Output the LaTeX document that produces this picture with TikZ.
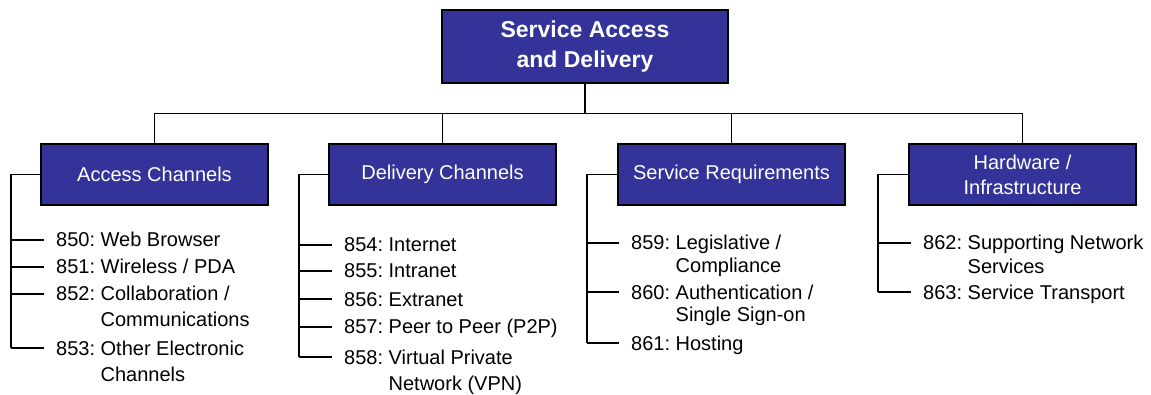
\documentclass[tikz,border=0pt]{standalone}
\usepackage{fontspec}
\setmainfont{Liberation Sans}
\frenchspacing
\definecolor{boxblue}{RGB}{51,51,153}
\newcommand\twoline[4][0pt]{\begin{tabular}[t]{@{}l@{\ }l@{}}#2:&#3\\[#1]&#4\end{tabular}}
\begin{document}
\begin{tikzpicture}[x=1pt,y=-1pt,
  hdr/.style={draw=black, line width=1.3pt, fill=boxblue, text=white,
    minimum width=227pt, minimum height=61pt, inner sep=0pt,
    font=\fontsize{20}{25}\selectfont, align=center},
  topbox/.style={draw=black, line width=1.3pt, fill=boxblue, text=white,
    minimum width=286pt, minimum height=73pt, inner sep=0pt,
    font=\bfseries\fontsize{23}{30}\selectfont, align=center},
  itm/.style={anchor=base west, inner sep=0pt, font=\frenchspacing\fontsize{20}{26}\selectfont},
  conn/.style={line width=1.5pt, black}]
\useasboundingbox (0,0) rectangle (1151,395);

\node[topbox] (root) at (585,46.5) {Service Access\\and Delivery};
\node[hdr] (acc) at (154.5,174.5) {Access Channels};
\node[hdr] (del) at (442.5,174.5) {Delivery Channels};
\node[hdr] (req) at (731.5,174.5) {Service Requirements};
\node[hdr] (hw) at (1022.5,174.5) {Hardware /\\Infrastructure};

\draw[conn] (root.south) -- ++(0,30) coordinate (bus);
\draw[conn] (acc.north) |- (bus) -| (hw.north);
\draw[conn] (del.north) -- (del.north |- bus);
\draw[conn] (req.north) -- (req.north |- bus);

% Access channels
\node[itm] (i850) at (56,247) {850: Web Browser};
\node[itm] (i851) at (56,274) {851: Wireless / PDA};
\node[itm] (i852) at (56,301) {\twoline{852}{Collaboration /}{Communications}};
\node[itm] (i853) at (56,355) {\twoline{853}{Other Electronic}{Channels}};
% Delivery channels
\node[itm] (i854) at (344,252) {854: Internet};
\node[itm] (i855) at (344,278) {855: Intranet};
\node[itm] (i856) at (344,306) {856: Extranet};
\node[itm] (i857) at (344,334) {857: Peer to Peer (P2P)};
\node[itm] (i858) at (344,364) {\twoline{858}{Virtual Private}{Network (VPN)}};
% Service requirements
\node[itm] (i859) at (631,250) {\twoline[-3pt]{859}{Legislative /}{Compliance}};
\node[itm] (i860) at (631,299) {\twoline[-3pt]{860}{Authentication /}{Single Sign-on}};
\node[itm] (i861) at (631,350) {861: Hosting};
% Hardware
\node[itm] (i862) at (923,250) {\twoline[-2pt]{862}{Supporting Network}{Services}};
\node[itm] (i863) at (923,299) {863: Service Transport};

% trunks
\draw[conn] (acc.west) -| ([xshift=-45pt,yshift=7pt]i853.base west);
\draw[conn] (del.west) -| ([xshift=-45pt,yshift=7pt]i858.base west);
\draw[conn] (req.west) -| ([xshift=-44pt,yshift=7pt]i861.base west);
\draw[conn] (hw.west) -| ([xshift=-45pt,yshift=7pt]i863.base west);

% ticks
\foreach \n in {850,851,852,853,854,855,856,857,858,862,863}
  \draw[conn] ([xshift=-45pt,yshift=7pt]i\n.base west) -- ++(33,0);
\foreach \n in {859,860,861}
  \draw[conn] ([xshift=-44pt,yshift=7pt]i\n.base west) -- ++(32,0);
\end{tikzpicture}
\end{document}
